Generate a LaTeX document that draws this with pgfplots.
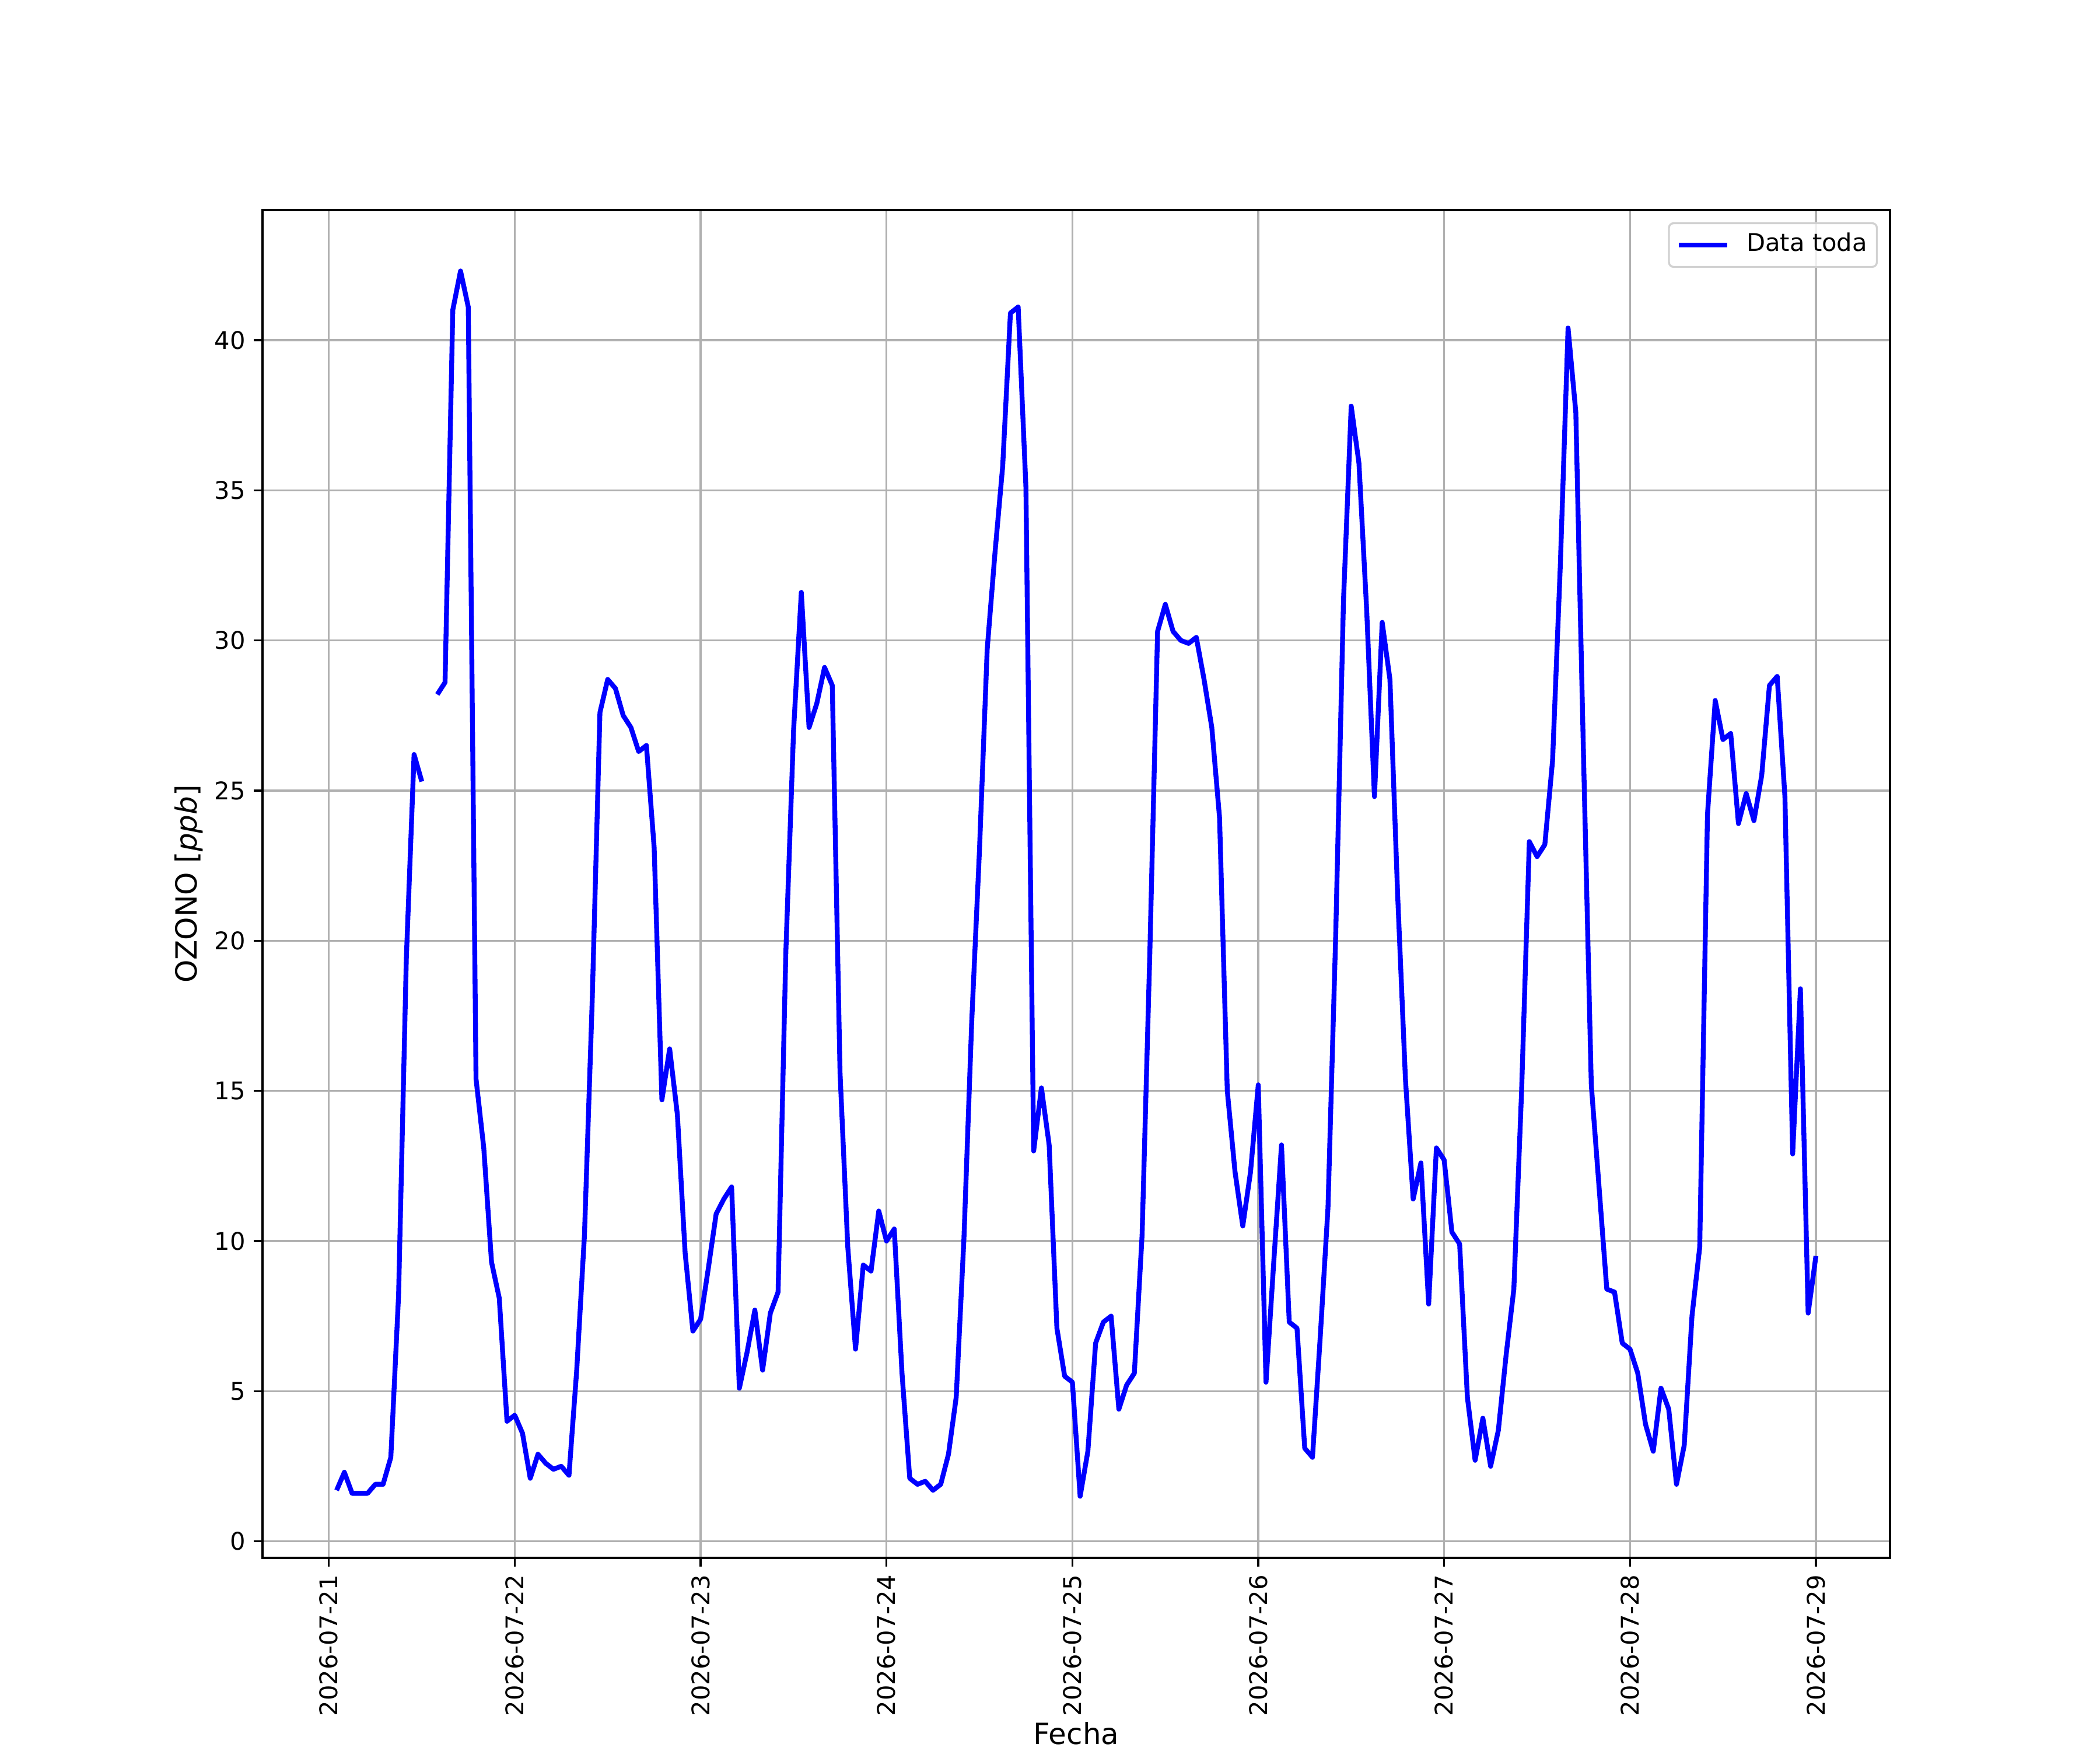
\documentclass[border=0pt]{standalone}
\usepackage{fontspec}
\setmainfont{DejaVu Sans}
\usepackage{pgfplots}
\pgfplotsset{compat=1.18}
\usepackage{pgfplotstable}
\pgfplotstableread{
h v
1 1.7
2 2.3
3 1.6
4 1.6
5 1.6
6 1.9
7 1.9
8 2.8
9 8.2
10 19.4
11 26.2
12 25.3
13 nan
14 28.2
15 28.6
16 41.0
17 42.3
18 41.1
19 15.4
20 13.1
21 9.3
22 8.1
23 4.0
24 4.2
25 3.6
26 2.1
27 2.9
28 2.6
29 2.4
30 2.5
31 2.2
32 5.7
33 10.2
34 18.0
35 27.6
36 28.7
37 28.4
38 27.5
39 27.1
40 26.3
41 26.5
42 23.1
43 14.7
44 16.4
45 14.2
46 9.6
47 7.0
48 7.4
49 9.1
50 10.9
51 11.4
52 11.8
53 5.1
54 6.3
55 7.7
56 5.7
57 7.6
58 8.3
59 19.6
60 27.0
61 31.6
62 27.1
63 27.9
64 29.1
65 28.5
66 15.6
67 9.8
68 6.4
69 9.2
70 9.0
71 11.0
72 10.0
73 10.4
74 5.6
75 2.1
76 1.9
77 2.0
78 1.7
79 1.9
80 2.9
81 4.8
82 10.1
83 17.3
84 23.0
85 29.7
86 32.9
87 35.8
88 40.9
89 41.1
90 35.1
91 13.0
92 15.1
93 13.2
94 7.1
95 5.5
96 5.3
97 1.5
98 3.0
99 6.6
100 7.3
101 7.5
102 4.4
103 5.2
104 5.6
105 10.2
106 19.6
107 30.3
108 31.2
109 30.3
110 30.0
111 29.9
112 30.1
113 28.7
114 27.1
115 24.1
116 15.0
117 12.3
118 10.5
119 12.3
120 15.2
121 5.3
122 9.3
123 13.2
124 7.3
125 7.1
126 3.1
127 2.8
128 6.8
129 11.1
130 20.2
131 31.3
132 37.8
133 35.9
134 31.0
135 24.8
136 30.6
137 28.7
138 21.5
139 15.4
140 11.4
141 12.6
142 7.9
143 13.1
144 12.7
145 10.3
146 9.9
147 4.8
148 2.7
149 4.1
150 2.5
151 3.7
152 6.2
153 8.4
154 15.0
155 23.3
156 22.8
157 23.2
158 26.0
159 32.5
160 40.4
161 37.6
162 26.1
163 15.2
164 11.8
165 8.4
166 8.3
167 6.6
168 6.4
169 5.6
170 3.9
171 3.0
172 5.1
173 4.4
174 1.9
175 3.2
176 7.5
177 9.8
178 24.2
179 28.0
180 26.7
181 26.9
182 23.9
183 24.9
184 24.0
185 25.5
186 28.5
187 28.8
188 24.8
189 12.9
190 18.4
191 7.6
192 9.5
}\ozono

\begin{document}
\begin{tikzpicture}
\begin{axis}[
  at={(0,0)}, anchor=south west,
  scale only axis, width=669.6pt, height=554.4pt,
  xmin=-8.57, xmax=201.57, ymin=-0.55, ymax=44.33,
  xtick={0,24,48,72,96,120,144,168,192},
  xticklabels={2026-07-21,2026-07-22,2026-07-23,2026-07-24,2026-07-25,2026-07-26,2026-07-27,2026-07-28,2026-07-29},
  xticklabel style={rotate=90, anchor=east, font=\fontsize{10}{12}\selectfont},
  yticklabel style={font=\fontsize{10}{12}\selectfont},
  ytick={0,5,...,40},
  /pgf/number format/assume math mode=true,
  grid=major,
  grid style={color=black!31, line width=0.8pt},
  tick align=outside,
  major tick length=3.5pt,
  tick style={black, line width=0.8pt},
  xtick pos=bottom, ytick pos=left,
  axis line style={line width=0.8pt},
  xlabel={Fecha},
  ylabel={OZONO [\textit{ppb}]},
  xlabel style={font=\fontsize{12}{14}\selectfont, at={(axis description cs:0.5,-0.1383)}, anchor=base},
  ylabel style={font=\fontsize{12}{14}\selectfont, at={(axis description cs:-0.0402,0.5)}, anchor=base},
  unbounded coords=jump,
  legend cell align=left,
  legend image code/.code={\draw[#1, line cap=rect] (1pt,0pt) -- (19pt,0pt);},
  legend style={at={(1,1)}, anchor=north east, xshift=-5pt, yshift=-5pt,
    draw=black!18, rounded corners=2pt, fill=white, fill opacity=0.8, text opacity=1,
    inner xsep=4pt, inner ysep=4pt, line width=0.8pt, column sep=0pt,
    nodes={inner sep=0pt, text height=7.6pt, text depth=2.4pt},
    font=\fontsize{10}{12}\selectfont},
]
\addplot[color=blue, line width=2pt, line join=round] table[x=h,y=v]{\ozono};
\addlegendentry{\hspace{8pt}Data toda}
\end{axis}
\pgfresetboundingbox
\path (-108pt,-79.2pt) rectangle (756pt,640.8pt);
\end{tikzpicture}
\end{document}
